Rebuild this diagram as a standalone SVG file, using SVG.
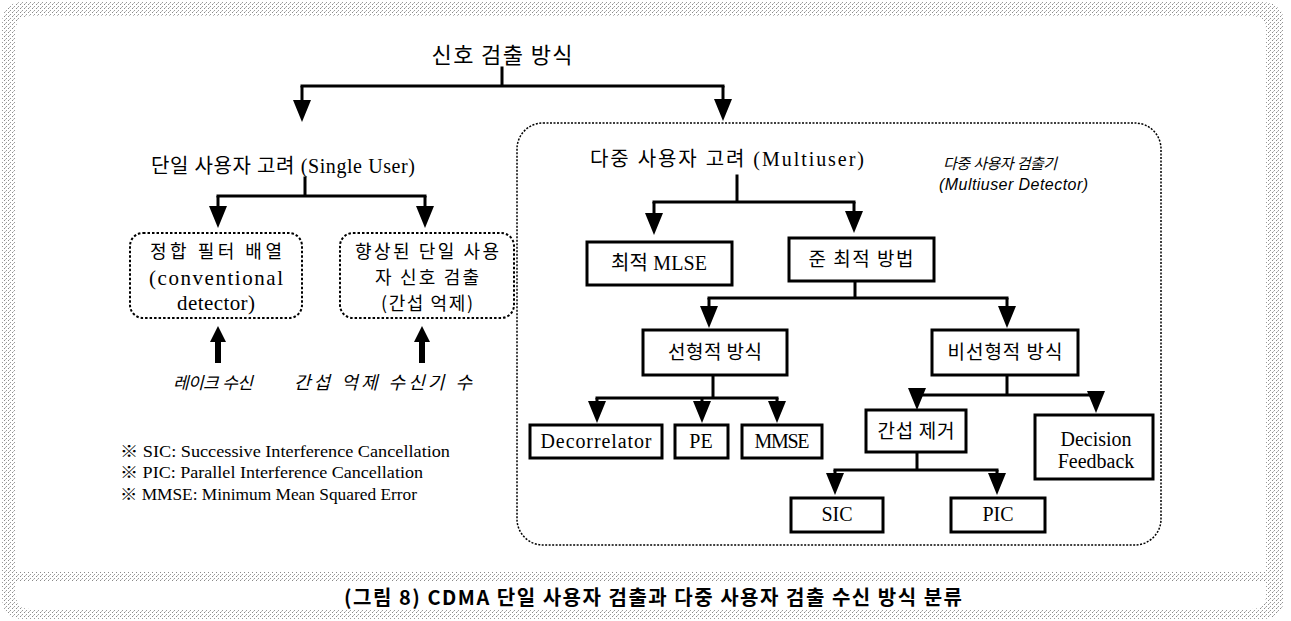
<svg xmlns="http://www.w3.org/2000/svg" width="1291" height="621" viewBox="0 0 1291 621">
<defs>
<pattern id="stip" width="4" height="4" patternUnits="userSpaceOnUse">
<rect width="4" height="4" fill="#ffffff"/>
<rect x="0" y="0" width="1" height="1" fill="#8a8a8a"/>
<rect x="2" y="2" width="1" height="1" fill="#9a9a9a"/>
<rect x="1" y="3" width="1" height="1" fill="#c0c0c0"/>
</pattern>
<marker id="ah" viewBox="0 0 22 18" refX="14" refY="9" markerWidth="22" markerHeight="18" markerUnits="userSpaceOnUse" orient="auto">
<path d="M0,0 L22,9 L0,18 z" fill="#000"/>
</marker>
<style>
.ln{fill:none;stroke:#000;stroke-width:3;stroke-linecap:square}
.arr{fill:none;stroke:#000;stroke-width:3;marker-end:url(#ah)}
.box{fill:#fff;stroke:#000;stroke-width:3}
.dbox{fill:none;stroke:#000;stroke-width:2;stroke-dasharray:2.5 2}
.mbox{fill:none;stroke:#000;stroke-width:1.5;stroke-dasharray:2 1.5}
.ko{font-family:"Noto Sans CJK KR",sans-serif;font-size:19px;fill:#000}
.mx{font-family:"Liberation Serif","Noto Sans CJK KR",serif;font-size:20px;fill:#000}
.it{font-family:"Liberation Sans","Noto Sans CJK KR",sans-serif;font-style:italic;font-size:17px;fill:#000}
.nt{font-family:"Liberation Serif","Noto Sans CJK KR",serif;font-size:16px;fill:#000}
.cap{font-family:"Noto Sans CJK KR",sans-serif;font-weight:bold;font-size:20px;fill:#000}
.c{text-anchor:middle}
</style>
</defs>
<rect width="1291" height="621" fill="#fff"/>
<g id="frame">
<path fill="url(#stip)" fill-rule="evenodd" d="M24,2 H1262 Q1284,2 1284,24 V597 Q1284,619 1262,619 H24 Q2,619 2,597 V24 Q2,2 24,2 Z M30,16 Q16,16 16,30 V595 Q16,609 30,609 H1252 Q1266,609 1266,595 V30 Q1266,16 1252,16 Z"/>
<rect x="16" y="572" width="1250" height="9" fill="url(#stip)"/>
</g>
<g id="connectors">
<path class="ln" d="M502,68 V86 M302,86 H723"/>
<path class="arr" d="M302,86 V114"/>
<path class="arr" d="M723,86 V113"/>
<path class="ln" d="M305,178 V196 M218,196 H425"/>
<path class="arr" d="M218,196 V220"/>
<path class="arr" d="M425,196 V220"/>
<path class="ln" d="M737,176 V202 M654,202 H854"/>
<path class="arr" d="M654,202 V227"/>
<path class="arr" d="M854,202 V225"/>
<path class="ln" d="M855,281 V298 M709,298 H1007"/>
<path class="arr" d="M709,298 V320"/>
<path class="arr" d="M1007,298 V320"/>
<path class="ln" d="M713,375 V398 M597,398 H777"/>
<path class="arr" d="M597,398 V415"/>
<path class="arr" d="M702,398 V415"/>
<path class="arr" d="M777,398 V415"/>
<path class="ln" d="M1007,375 V395 M917,395 H1096"/>
<path class="arr" d="M917,395 V402"/>
<path class="arr" d="M1096,395 V405"/>
<path class="ln" d="M917,452 V470 M835,470 H997"/>
<path class="arr" d="M835,470 V487"/>
<path class="arr" d="M997,470 V487"/>
<path d="M215,340 H221 V363 H215 Z M210,342 L218,326 L226,342 Z" fill="#000"/>
<path d="M419,340 H425 V363 H419 Z M414,342 L422,326 L430,342 Z" fill="#000"/>
</g>
<g id="n-root"><text class="ko c" x="502" y="63" style="font-size:22px" textLength="141" lengthAdjust="spacing">신호 검출 방식</text></g>
<g id="n-single"><text class="mx" x="151" y="173" textLength="264" lengthAdjust="spacing">단일 사용자 고려 (Single User)</text></g>
<g id="n-matched">
<rect class="dbox" x="130" y="233" width="172" height="85" rx="13"/>
<text class="ko c" x="216" y="258" style="font-size:18px" textLength="132" lengthAdjust="spacing">정합 필터 배열</text>
<text class="mx c" x="216" y="285" style="font-size:21px" textLength="134" lengthAdjust="spacing">(conventional</text>
<text class="mx c" x="216" y="310" style="font-size:21px" textLength="78" lengthAdjust="spacing">detector)</text>
</g>
<g id="n-enhanced">
<rect class="dbox" x="340" y="233" width="174" height="85" rx="13"/>
<text class="ko c" x="427" y="258" style="font-size:18px" textLength="144" lengthAdjust="spacing">향상된 단일 사용</text>
<text class="ko c" x="427" y="284" style="font-size:18px" textLength="104" lengthAdjust="spacing">자 신호 검출</text>
<text class="ko c" x="427" y="310" style="font-size:18px" textLength="92" lengthAdjust="spacing">(간섭 억제)</text>
</g>
<g id="n-rake"><text class="it c" x="213" y="389" textLength="80" lengthAdjust="spacing">레이크 수신</text></g>
<g id="n-iccount"><text class="it c" x="383" y="389" style="font-size:18px" textLength="178" lengthAdjust="spacing">간섭 억제 수신기 수</text></g>
<g id="n-notes">
<text class="nt" x="120" y="457" textLength="330" lengthAdjust="spacingAndGlyphs">※ SIC: Successive Interference Cancellation</text>
<text class="nt" x="120" y="478" textLength="303" lengthAdjust="spacingAndGlyphs">※ PIC: Parallel Interference Cancellation</text>
<text class="nt" x="120" y="500" textLength="297" lengthAdjust="spacingAndGlyphs">※ MMSE: Minimum Mean Squared Error</text>
</g>
<g id="n-multi">
<rect class="mbox" x="517" y="123" width="644" height="422" rx="26"/>
<text class="mx" x="590" y="166" textLength="274" lengthAdjust="spacing">다중 사용자 고려 (Multiuser)</text>
<text class="it" x="943" y="169" style="font-size:15px" textLength="114" lengthAdjust="spacing">다중 사용자  검출기</text>
<text class="it" x="939" y="190" style="font-size:16px" textLength="149" lengthAdjust="spacing">(Multiuser Detector)</text>
</g>
<g id="n-mlse"><rect class="box" x="587" y="242" width="145" height="43"/><text class="mx c" x="659" y="270" textLength="96" lengthAdjust="spacing">최적 MLSE</text></g>
<g id="n-subopt"><rect class="box" x="789" y="238" width="145" height="43"/><text class="ko c" x="861" y="266" textLength="105" lengthAdjust="spacing">준 최적 방법</text></g>
<g id="n-linear"><rect class="box" x="643" y="330" width="144" height="45"/><text class="ko c" x="715" y="359" textLength="94" lengthAdjust="spacing">선형적 방식</text></g>
<g id="n-nonlinear"><rect class="box" x="932" y="330" width="146" height="45"/><text class="ko c" x="1005" y="359" textLength="115" lengthAdjust="spacing">비선형적 방식</text></g>
<g id="n-decor"><rect class="box" x="530" y="425" width="132" height="33"/><text class="mx c" x="596" y="448" textLength="111" lengthAdjust="spacing">Decorrelator</text></g>
<g id="n-pe"><rect class="box" x="675" y="425" width="53" height="33"/><text class="mx c" x="701" y="448">PE</text></g>
<g id="n-mmse"><rect class="box" x="742" y="425" width="80" height="33"/><text class="mx c" x="782" y="448" textLength="55" lengthAdjust="spacing">MMSE</text></g>
<g id="n-ic"><rect class="box" x="866" y="410" width="100" height="42"/><text class="ko c" x="916" y="438" textLength="77" lengthAdjust="spacing">간섭 제거</text></g>
<g id="n-df"><rect class="box" x="1035" y="415" width="118" height="64"/><text class="mx c" x="1096" y="446">Decision</text><text class="mx c" x="1096" y="468">Feedback</text></g>
<g id="n-sic"><rect class="box" x="791" y="498" width="92" height="34"/><text class="mx c" x="837" y="521">SIC</text></g>
<g id="n-pic"><rect class="box" x="951" y="498" width="94" height="34"/><text class="mx c" x="998" y="521">PIC</text></g>
<g id="n-caption"><text class="cap c" x="653" y="605" textLength="618" lengthAdjust="spacing">(그림 8) CDMA 단일 사용자 검출과 다중 사용자 검출 수신 방식 분류</text></g>
</svg>
